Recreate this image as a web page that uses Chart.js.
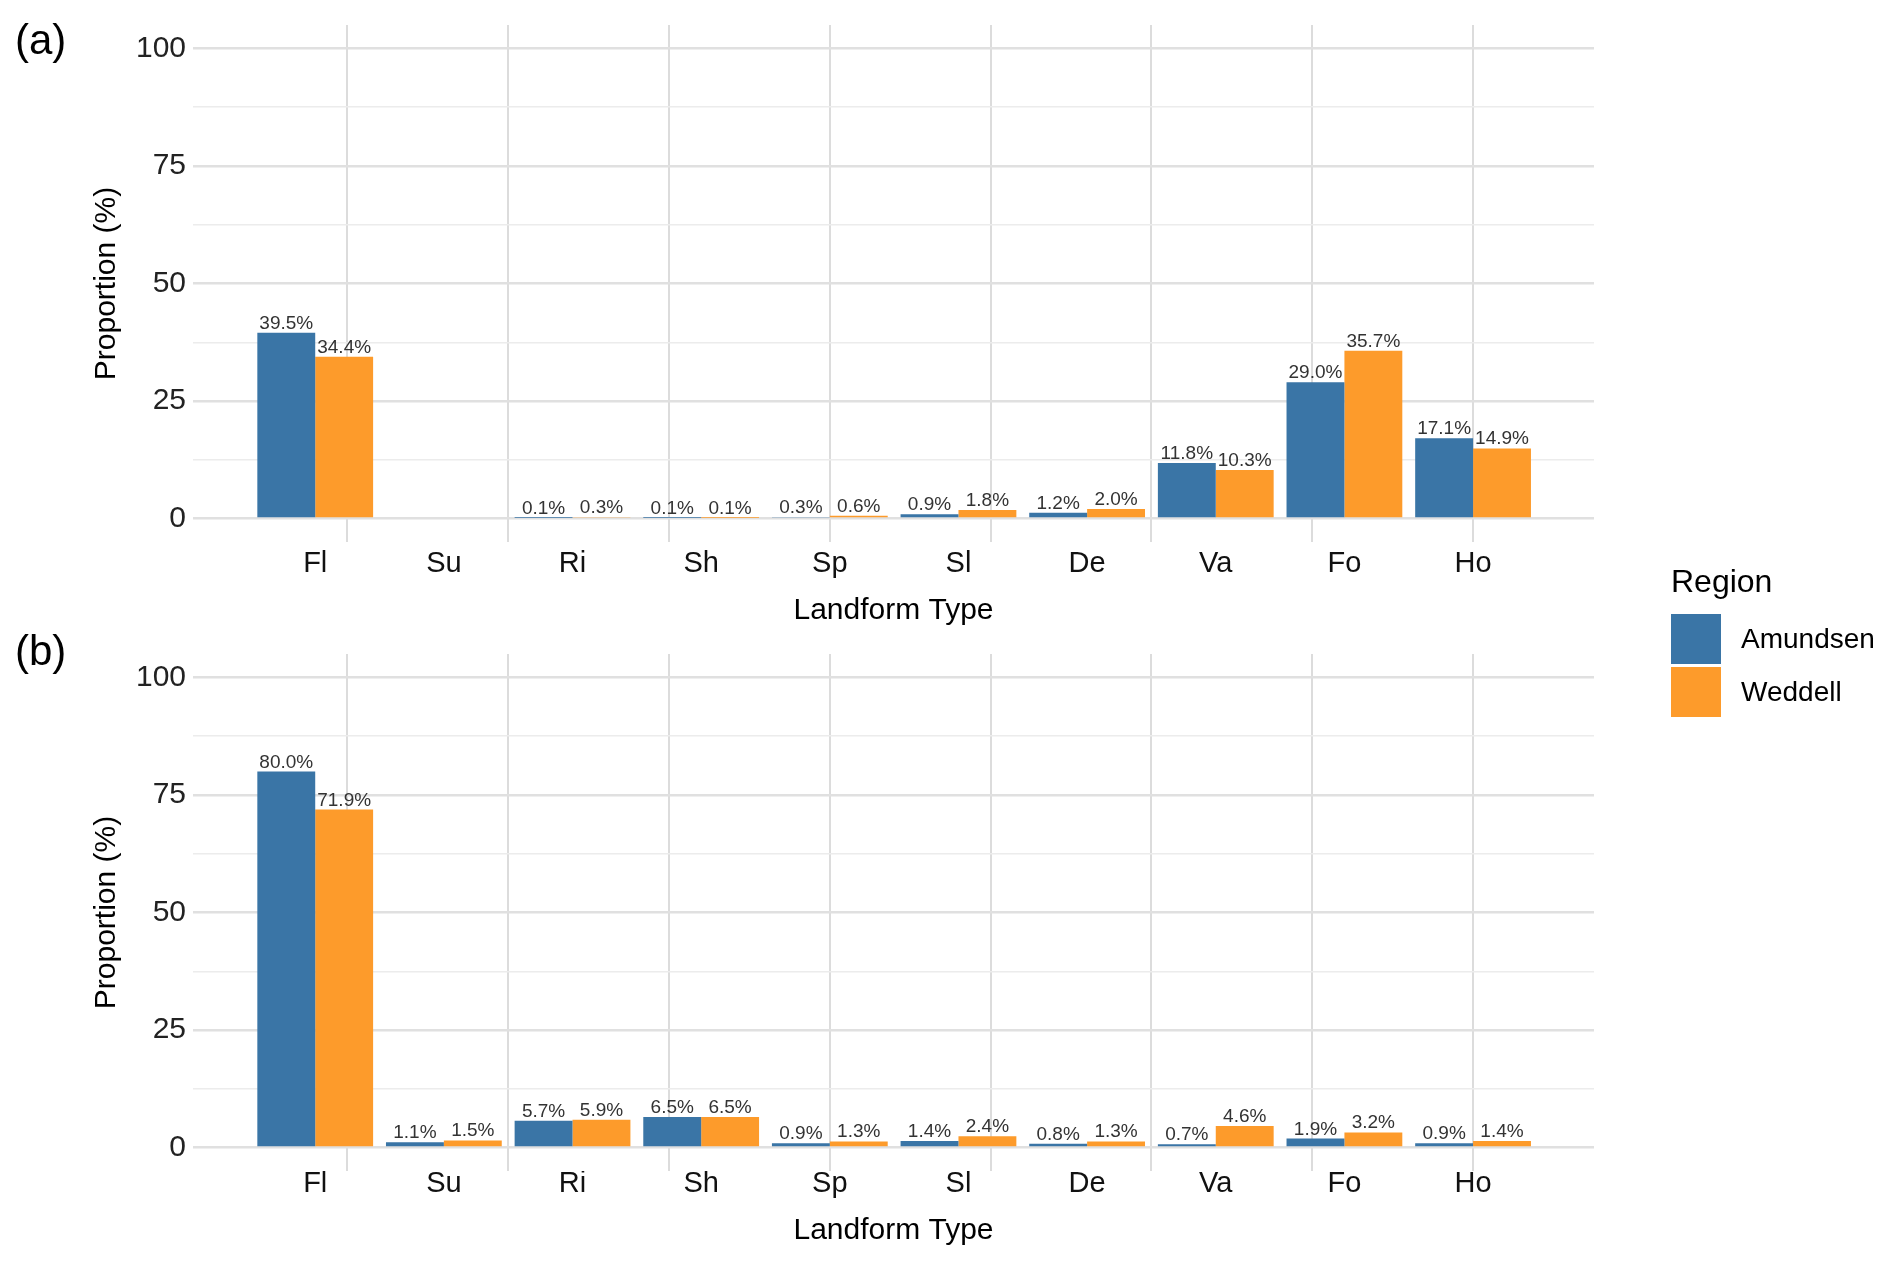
<!DOCTYPE html>
<html>
<head>
<meta charset="utf-8">
<title>Landform proportions by region</title>
<script src="https://cdn.jsdelivr.net/npm/chart.js@4.4.1/dist/chart.umd.min.js"></script>
<style>
  html, body { margin: 0; padding: 0; background: #fff; }
  #wrap { position: relative; width: 1892px; height: 1267px; font-family: "Liberation Sans", Arial, sans-serif; }
  canvas { position: absolute; left: 0; }
  .lg-title { position: absolute; left: 1671px; top: 563px; font-size: 32px; line-height: 36px; color: #000; white-space: nowrap; }
  .lg-box { position: absolute; left: 1671px; width: 50px; height: 50px; }
  .lg-text { position: absolute; left: 1741px; font-size: 28px; line-height: 50px; color: #000; white-space: nowrap; }
</style>
</head>
<body>
<div id="wrap">
  <canvas id="chartA" width="1892" height="630" style="top:0"></canvas>
  <canvas id="chartB" width="1892" height="630" style="top:629px"></canvas>
  <div id="legend"></div>
</div>
<script>
// landform classes on the x axis
const landforms = ["Fl", "Su", "Ri", "Sh", "Sp", "Sl", "De", "Va", "Fo", "Ho"];
const regions = ["Amundsen", "Weddell"];
const regionColors = ["#3a75a6", "#fd9b2b"];

// panel (a), proportion in %
const amundsenA = [39.5, null, 0.1, 0.1, 0.3, 0.9, 1.2, 11.8, 29.0, 17.1];
const weddellA = [34.4, null, 0.3, 0.1, 0.6, 1.8, 2.0, 10.3, 35.7, 14.9];

// panel (b), proportion in %
const amundsenB = [80.0, 1.1, 5.7, 6.5, 0.9, 1.4, 0.8, 0.7, 1.9, 0.9];
const weddellB = [71.9, 1.5, 5.9, 6.5, 1.3, 2.4, 1.3, 4.6, 3.2, 1.4];

// y ticks: labelled majors and unlabelled minors
const yMajor = [0, 25, 50, 75, 100];
const yMinor = [12.5, 37.5, 62.5, 87.5];
// vertical grid lines of the original figure (in x-axis units)
const xGrid = [0.25, 1.5, 2.75, 4, 5.25, 6.5, 7.75, 9];

const FONT = '"Liberation Sans", Arial, sans-serif';
Chart.defaults.font.family = FONT;

// value labels above each bar
const barLabels = {
  id: "barLabels",
  afterDatasetsDraw(chart) {
    const ctx = chart.ctx;
    ctx.save();
    ctx.font = "19px " + FONT;
    ctx.fillStyle = "#333";
    ctx.textAlign = "center";
    ctx.textBaseline = "alphabetic";
    chart.data.datasets.forEach((ds, i) => {
      chart.getDatasetMeta(i).data.forEach((bar, j) => {
        const v = ds.data[j].y;
        if (v == null) return;
        ctx.fillText(v.toFixed(1) + "%", bar.x, bar.y - 4);
      });
    });
    ctx.restore();
  }
};

// "(a)" / "(b)" tag
const panelTag = {
  id: "panelTag",
  afterDraw(chart, args, opts) {
    const ctx = chart.ctx;
    ctx.save();
    ctx.font = "42px " + FONT;
    ctx.fillStyle = "#000";
    ctx.textAlign = "left";
    ctx.textBaseline = "middle";
    ctx.fillText(opts.text, 15, opts.y);
    ctx.restore();
  }
};

function makePanel(id, amundsen, weddell, tag) {
  const series = [amundsen, weddell];
  return new Chart(document.getElementById(id), {
    type: "bar",
    data: {
      datasets: regions.map((name, k) => ({
        label: name,
        data: landforms.map((_, i) => ({ x: i, y: series[k][i] })),
        backgroundColor: regionColors[k],
        borderWidth: 0,
        categoryPercentage: 0.9,
        barPercentage: 1.0
      }))
    },
    options: {
      responsive: false,
      animation: false,
      devicePixelRatio: 1,
      layout: { padding: { left: 0, right: 298, top: 20, bottom: 0 } },
      plugins: {
        legend: { display: false },
        tooltip: { enabled: false },
        panelTag: tag
      },
      scales: {
        x: {
          type: "linear",
          offset: false,
          min: -0.95,
          max: 9.94,
          grid: { display: false, offset: false },
          border: { display: false },
          afterBuildTicks: (s) => { s.ticks = landforms.map((_, i) => ({ value: i })); },
          ticks: {
            callback: (v) => landforms[v],
            font: { size: 29, lineHeight: 1.0 },
            color: "#111",
            padding: tag.tickPad,
            maxRotation: 0,
            autoSkip: false
          },
          title: {
            display: true,
            text: "Landform Type",
            font: { size: 30 },
            color: "#000",
            padding: { top: 0, bottom: tag.titlePad }
          },
          afterFit: (s) => { s.height = 88; }
        },
        xg: {
          axis: "x",
          type: "linear",
          position: "top",
          offset: false,
          min: -0.95,
          max: 9.94,
          afterBuildTicks: (s) => { s.ticks = xGrid.map((v) => ({ value: v })); },
          ticks: { display: false },
          border: { display: false },
          grid: { color: "#dcdcdc", lineWidth: 2, drawTicks: false, offset: false },
          afterFit: (s) => { s.height = 0; }
        },
        y: {
          min: -5,
          max: 105,
          afterBuildTicks: (s) => {
            s.ticks = yMajor.concat(yMinor).sort((a, b) => a - b).map((v) => ({ value: v }));
          },
          ticks: {
            callback: (v) => (yMajor.includes(v) ? v : ""),
            font: { size: 30 },
            color: "#222",
            padding: 7
          },
          grid: {
            color: (c) => (yMajor.includes(c.tick.value) ? "#e0e0e0" : "#ececec"),
            lineWidth: (c) => (yMajor.includes(c.tick.value) ? 2.5 : 1.5),
            drawTicks: false
          },
          border: { display: false },
          title: {
            display: true,
            text: "Proportion (%)",
            font: { size: 30 },
            color: "#000",
            padding: { top: 89, bottom: 0 }
          },
          afterFit: (s) => { s.width = 193; }
        }
      }
    },
    plugins: [barLabels, panelTag]
  });
}

const chartA = makePanel("chartA", amundsenA, weddellA, { text: "(a)", y: 42, tickPad: -1, titlePad: 1 });
const chartB = makePanel("chartB", amundsenB, weddellB, { text: "(b)", y: 24, tickPad: -10, titlePad: 10 });

// shared legend built from the datasets
const legend = document.getElementById("legend");
const lgTitle = document.createElement("div");
lgTitle.className = "lg-title";
lgTitle.textContent = "Region";
legend.appendChild(lgTitle);
chartA.data.datasets.forEach((ds, k) => {
  const top = 614 + k * 53;
  const box = document.createElement("div");
  box.className = "lg-box";
  box.style.top = top + "px";
  box.style.background = ds.backgroundColor;
  const txt = document.createElement("div");
  txt.className = "lg-text";
  txt.style.top = top + "px";
  txt.textContent = ds.label;
  legend.appendChild(box);
  legend.appendChild(txt);
});
</script>
</body>
</html>
